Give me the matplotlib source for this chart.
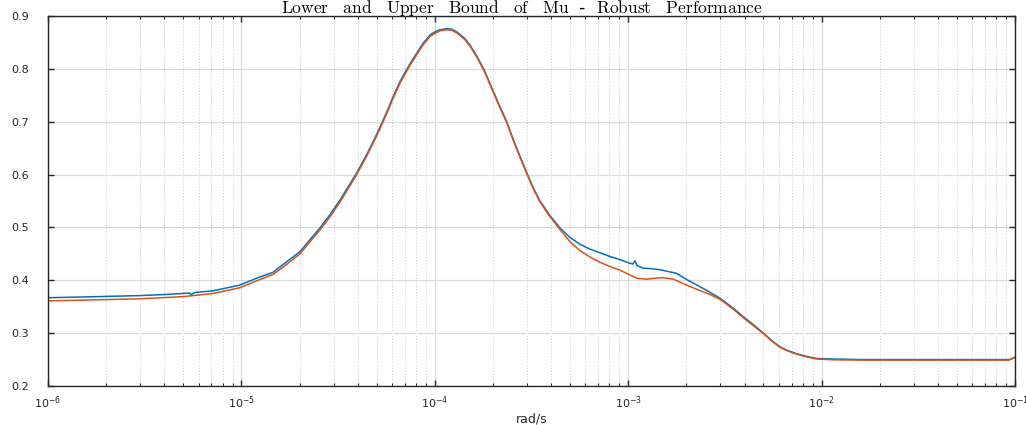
import numpy as np
import matplotlib.pyplot as plt
from matplotlib.ticker import LogLocator, NullFormatter

plt.rcParams['mathtext.fontset'] = 'cm'

# mu bounds (log10 of frequency in rad/s, value)
upper_logw = [-6.0, -5.75, -5.524, -5.4, -5.302, -5.27, -5.26, -5.24, -5.147, -5.007,
              -4.921, -4.837, -4.766, -4.697, -4.645, -4.594, -4.542, -4.49, -4.404,
              -4.352, -4.318, -4.283, -4.249, -4.223, -4.18, -4.128, -4.077, -4.059,
              -4.025, -3.999, -3.973, -3.938, -3.913, -3.887, -3.870, -3.844, -3.818,
              -3.783, -3.749, -3.732, -3.697, -3.663, -3.628, -3.611, -3.577, -3.525,
              -3.491, -3.456, -3.404, -3.353, -3.301, -3.249, -3.198, -3.146, -3.094,
              -3.042, -2.991, -2.975, -2.965, -2.955, -2.924, -2.88, -2.836, -2.749,
              -2.696, -2.629, -2.577, -2.525, -2.456, -2.405, -2.353, -2.301, -2.258,
              -2.215, -2.181, -2.129, -2.077, -2.025, -1.94, -1.8, -1.5, -1.03, -1.0]
upper_mu = [0.367, 0.369, 0.371, 0.373, 0.375, 0.376, 0.373, 0.377, 0.380, 0.391,
            0.404, 0.415, 0.435, 0.454, 0.477, 0.499, 0.524, 0.552, 0.603,
            0.638, 0.663, 0.690, 0.718, 0.741, 0.776, 0.810, 0.839, 0.849,
            0.864, 0.870, 0.874, 0.876, 0.875, 0.870, 0.865, 0.857, 0.845,
            0.824, 0.801, 0.787, 0.757, 0.728, 0.700, 0.683, 0.650, 0.604,
            0.575, 0.550, 0.522, 0.499, 0.481, 0.468, 0.459, 0.452, 0.445,
            0.439, 0.432, 0.431, 0.437, 0.428, 0.423, 0.422, 0.420, 0.413,
            0.401, 0.388, 0.377, 0.366, 0.347, 0.331, 0.316, 0.300, 0.286,
            0.274, 0.268, 0.261, 0.256, 0.252, 0.251, 0.250, 0.250, 0.250, 0.254]

lower_logw = [-6.0, -5.75, -5.524, -5.302, -5.147, -5.007, -4.921, -4.837, -4.766,
              -4.697, -4.645, -4.594, -4.542, -4.49, -4.404, -4.352, -4.318, -4.283,
              -4.249, -4.223, -4.18, -4.128, -4.077, -4.059, -4.025, -3.999, -3.973,
              -3.938, -3.913, -3.887, -3.870, -3.844, -3.818, -3.783, -3.749, -3.732,
              -3.697, -3.663, -3.628, -3.611, -3.577, -3.525, -3.491, -3.456, -3.404,
              -3.353, -3.301, -3.249, -3.198, -3.146, -3.094, -3.042, -2.991, -2.956,
              -2.905, -2.86, -2.819, -2.767, -2.698, -2.646, -2.577, -2.525, -2.456,
              -2.405, -2.353, -2.301, -2.258, -2.215, -2.181, -2.129, -2.077, -2.025,
              -1.94, -1.8, -1.5, -1.03, -1.0]
lower_mu = [0.361, 0.363, 0.365, 0.369, 0.375, 0.386, 0.399, 0.411, 0.430,
            0.450, 0.473, 0.495, 0.520, 0.548, 0.600, 0.635, 0.660, 0.687,
            0.715, 0.738, 0.773, 0.807, 0.836, 0.846, 0.861, 0.867, 0.872,
            0.874, 0.873, 0.868, 0.863, 0.855, 0.843, 0.822, 0.799, 0.785,
            0.755, 0.726, 0.698, 0.681, 0.648, 0.602, 0.573, 0.548, 0.520,
            0.496, 0.473, 0.456, 0.444, 0.434, 0.426, 0.419, 0.410, 0.404,
            0.402, 0.404, 0.405, 0.402, 0.391, 0.383, 0.373, 0.364, 0.345,
            0.329, 0.314, 0.299, 0.285, 0.273, 0.267, 0.260, 0.255, 0.251,
            0.2495, 0.249, 0.249, 0.249, 0.255]

fig = plt.figure(figsize=(10.26, 4.25), dpi=100)
ax = fig.add_axes([0.0468, 0.0918, 0.9425, 0.8706])

ax.semilogx(10.0 ** np.array(upper_logw), upper_mu, color='#0072BD', lw=1.1)
ax.semilogx(10.0 ** np.array(lower_logw), lower_mu, color='#D95319', lw=1.1)

ax.set_xlim(1e-6, 1e-1)
ax.set_ylim(0.2, 0.9)
ax.set_yticks(np.arange(0.2, 0.91, 0.1))
ax.set_yticklabels(['%.1f' % v for v in np.arange(0.2, 0.91, 0.1)])
ax.xaxis.set_major_locator(LogLocator(base=10, numticks=10))
ax.xaxis.set_minor_locator(LogLocator(base=10, subs=np.arange(2, 10), numticks=20))
ax.xaxis.set_minor_formatter(NullFormatter())

ax.grid(True, which='major', color='#dcdcdc', lw=0.9, ls='-')
ax.grid(True, which='minor', axis='x', color='#c8c8c8', lw=0.7, ls=(0, (1, 2)))
ax.set_axisbelow(True)

ax.tick_params(which='both', direction='in', top=True, right=True,
               colors='#262626', labelsize=8)
ax.tick_params(which='major', length=4, width=1.0)
ax.tick_params(which='minor', length=2.5, width=0.8)
ax.tick_params(axis='x', pad=6)
ax.tick_params(axis='y', pad=14)
for s in ax.spines.values():
    s.set_color('#262626')
    s.set_linewidth(1.0)

ax.set_xlabel('rad/s', fontsize=9, color='#262626', labelpad=1)

# title sits right on the top edge like the original
fig.text(0.5085, 1 - 13 / 425,
         r'$\mathrm{Lower\quad and\quad Upper\quad Bound\quad of\quad Mu}$  -  '
         r'$\mathrm{Robust\quad Performance}$',
         fontsize=12.5, ha='center', va='baseline')

fig.savefig('out.png', dpi=100)
